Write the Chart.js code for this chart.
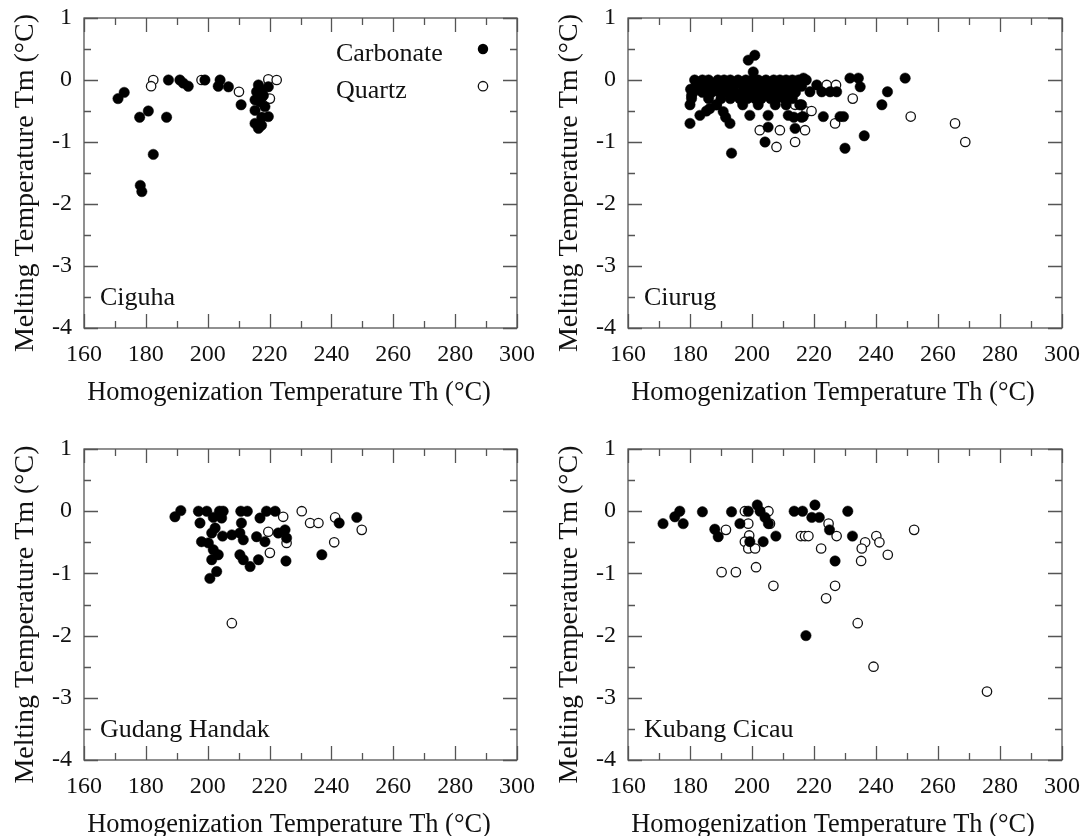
<!DOCTYPE html>
<html>
<head>
<meta charset="utf-8">
<script src="https://cdn.jsdelivr.net/npm/chart.js@4"></script>
<style>
  html, body { margin: 0; padding: 0; background: #fff; overflow: hidden; }
  canvas { position: absolute; }
</style>
</head>
<body>
<canvas id="c1"></canvas>
<canvas id="c2"></canvas>
<canvas id="c3"></canvas>
<canvas id="c4"></canvas>
<script>
// axis ticks
const thTicks = [160, 180, 200, 220, 240, 260, 280, 300];
const tmTicks = [1, 0, -1, -2, -3, -4];
const thTitle = 'Homogenization Temperature Th (°C)';
const tmTitle = 'Melting Temperature Tm (°C)';

// Ciguha
const ciguhaCarbTh = [171, 173, 178, 180.8, 182.4, 178.2, 178.7, 186.7, 187.3, 191, 192.1, 193.7, 199.1, 204, 203.4, 206.7, 210.8,
  216.4, 215.8, 217.4, 219.6, 215.3, 216.9, 218.5, 219.6, 215.3, 216.4, 217.4, 215.3, 218, 217.5];
const ciguhaCarbTm = [-0.3, -0.2, -0.6, -0.5, -1.2, -1.7, -1.8, -0.6, 0, 0, -0.05, -0.1, 0, 0, -0.1, -0.11, -0.4,
  -0.08, -0.19, -0.16, -0.11, -0.32, -0.35, -0.43, -0.59, -0.7, -0.78, -0.73, -0.49, -0.25, -0.6];
const ciguhaQtzTh = [182.4, 181.7, 198, 210.1, 219.6, 222.3, 220.1];
const ciguhaQtzTm = [0, -0.1, 0, -0.19, 0.01, 0, -0.3];

// Ciurug
const ciurugCarbTh = [
  181.5, 184, 186, 189, 191, 193, 195.5, 198, 200, 202, 204.5, 207, 209, 211, 213, 215, 217.5,
  182, 185, 188, 190, 192, 194, 197, 199, 201, 203, 206, 208, 210, 212, 214, 216,
  181, 184, 187, 189.5, 192, 194.5, 197, 199.5, 202, 204.5, 207, 209.5, 212, 214,
  180.5, 186, 190, 193, 196, 198.5, 201, 203, 206, 208, 210.5, 213,
  180, 188.5, 197, 202, 207.5, 211, 180.2, 180.5,
  180, 183.2, 185.3, 186.4, 188.6, 190.7, 191.5, 192.9, 199.3, 205.2, 205.2, 204.2, 193.4, 211.7, 213.5, 213.9,
  215.4, 216, 198.8, 200.9, 200.4,
  216.6, 220.9, 218.7, 222.5, 225.2, 227.3, 231.6, 234.3, 234.9, 249.4, 243.7, 241.9, 223, 228.4, 229.5,
  236.2, 230, 216, 216.5];
const ciurugCarbTm = [
  0, 0, 0, 0, 0, 0, 0, 0, 0, 0, 0, 0, 0, 0, 0, 0, 0,
  -0.1, -0.1, -0.1, -0.1, -0.1, -0.1, -0.1, -0.1, -0.1, -0.1, -0.1, -0.1, -0.1, -0.1, -0.1, -0.1,
  -0.2, -0.2, -0.2, -0.2, -0.2, -0.2, -0.2, -0.2, -0.2, -0.2, -0.2, -0.2, -0.2, -0.2,
  -0.3, -0.3, -0.3, -0.3, -0.3, -0.3, -0.3, -0.3, -0.3, -0.3, -0.3, -0.3,
  -0.4, -0.4, -0.4, -0.4, -0.4, -0.4, -0.15, -0.25,
  -0.7, -0.57, -0.5, -0.46, -0.4, -0.51, -0.6, -0.7, -0.57, -0.57, -0.76, -1.0, -1.18, -0.57, -0.6, -0.78,
  -0.4, -0.6, 0.32, 0.4, 0.13,
  0.03, -0.08, -0.19, -0.19, -0.19, -0.19, 0.03, 0.03, -0.11, 0.03, -0.19, -0.4, -0.59, -0.59, -0.59,
  -0.9, -1.1, -0.4, -0.59];
const ciurugQtzTh = [213.9, 202.5, 209, 207.9, 213.9, 217.6, 224.1, 227.1, 232.5, 219.2, 226.8, 217.1, 251.2, 265.5, 268.8, 204.7];
const ciurugQtzTm = [-0.4, -0.81, -0.81, -1.08, -1.0, -0.51, -0.08, -0.08, -0.3, -0.5, -0.7, -0.81, -0.59, -0.7, -1.0, -0.22];

// Gudang Handak
const gudangCarbTh = [189.4, 191.3, 197, 199.7, 203.8, 205, 197.5, 201.8, 204.5, 202.4, 201.3, 204.8, 207.8, 210.4, 210.9, 210.7,
  212.8, 211.5, 198, 200.2, 201.8, 203.4, 201.3, 202.9, 200.7, 210.4, 211.5, 213.7, 216.4, 215.8, 218.5, 216.9, 219, 221.8,
  222.8, 225, 225.5, 225.3, 242.5, 248.2, 236.9];
const gudangCarbTm = [-0.09, 0.01, 0, 0, 0, 0, -0.19, -0.1, -0.11, -0.27, -0.35, -0.4, -0.38, -0.35, -0.19, 0,
  0, -0.46, -0.49, -0.51, -0.62, -0.7, -0.78, -0.97, -1.08, -0.7, -0.78, -0.89, -0.78, -0.41, -0.49, -0.11, 0, 0,
  -0.35, -0.3, -0.43, -0.8, -0.19, -0.1, -0.7];
const gudangQtzTh = [224.4, 219.6, 225.5, 220.1, 230.4, 233.1, 235.8, 241.2, 249.8, 240.9, 207.8];
const gudangQtzTm = [-0.09, -0.33, -0.51, -0.67, 0, -0.19, -0.19, -0.1, -0.3, -0.5, -1.8];

// Kubang Cicau
const kubangCarbTh = [171.3, 175.1, 176.7, 177.8, 184, 188, 189.1, 193.4, 196.1, 198.8, 201.7, 202.6, 204.2, 205.3, 199.3,
  203.6, 207.7, 213.6, 216.3, 220.3, 219.3, 221.7, 225, 226.8, 230.9, 232.4, 217.4];
const kubangCarbTm = [-0.2, -0.09, 0, -0.2, -0.01, -0.29, -0.41, -0.01, -0.2, 0, 0.1, 0, -0.1, -0.2, -0.49,
  -0.49, -0.4, 0, 0, 0.1, -0.1, -0.1, -0.3, -0.8, 0, -0.4, -2.0];
const kubangQtzTh = [197.7, 205.3, 191.6, 198.8, 205.8, 199.1, 197.7, 198.8, 201, 190.2, 194.8, 201.3, 206.9,
  215.8, 217.1, 218.2, 224.7, 227.3, 222.3, 226.8, 223.9, 234.1, 239.2, 236.5, 235.4, 235.2, 240.1, 241.1, 243.8, 252.3, 275.8];
const kubangQtzTm = [0, 0, -0.3, -0.2, -0.2, -0.39, -0.49, -0.6, -0.6, -0.98, -0.98, -0.9, -1.2,
  -0.4, -0.4, -0.4, -0.2, -0.4, -0.6, -1.2, -1.4, -1.8, -2.5, -0.5, -0.6, -0.8, -0.4, -0.5, -0.7, -0.3, -2.9];

const legendNames = ['Carbonate', 'Quartz'];
const legendTh = 289;
const legendTm = [0.5, -0.1];

const serif = "'Liberation Serif', 'Times New Roman', serif";
const yMargin = 84, topPad = 18, rightPad = 20, xAxisH = 81;

function zip(xs, ys) {
  return xs.map((v, i) => ({ x: v, y: ys[i] }));
}

// don't let tick labels push the plot area around
function noScalePadding(s) {
  s.paddingTop = 0; s.paddingBottom = 0; s.paddingLeft = 0; s.paddingRight = 0;
}

// inward tick marks on all four sides plus the frame
const frameTicks = {
  id: 'frameTicks',
  afterDatasetsDraw(chart) {
    const { ctx, chartArea: a, scales: { x, y } } = chart;
    ctx.save();
    ctx.strokeStyle = '#555';
    ctx.lineWidth = 1.3;
    ctx.beginPath();
    for (let v = x.min; v <= x.max; v += 10) {
      const px = Math.round(x.getPixelForValue(v)) + 0.5;
      const len = v % 20 === 0 ? 14 : 7;
      ctx.moveTo(px, a.top); ctx.lineTo(px, a.top + len);
      ctx.moveTo(px, a.bottom); ctx.lineTo(px, a.bottom - len);
    }
    for (let v = y.min; v <= y.max; v += 0.5) {
      const py = Math.round(y.getPixelForValue(v)) + 0.5;
      const len = Number.isInteger(v) ? 14 : 7;
      ctx.moveTo(a.left, py); ctx.lineTo(a.left + len, py);
      ctx.moveTo(a.right, py); ctx.lineTo(a.right - len, py);
    }
    ctx.stroke();
    ctx.strokeRect(a.left, a.top, a.right - a.left, a.bottom - a.top);
    ctx.restore();
  }
};

// axis titles, site name in the lower left, and the key in the first panel
const panelText = {
  id: 'panelText',
  afterDraw(chart, args, opts) {
    const { ctx, chartArea: a, scales: { x, y } } = chart;
    ctx.save();
    ctx.fillStyle = '#111';

    ctx.font = '26.4px ' + serif;
    ctx.textAlign = 'center';
    ctx.textBaseline = 'middle';
    ctx.fillText(thTitle, a.left + 205, a.bottom + 65);
    ctx.save();
    ctx.font = '28px ' + serif;
    ctx.translate(26, (a.top + a.bottom) / 2 + 10);
    ctx.rotate(-Math.PI / 2);
    ctx.fillText(tmTitle, 0, 0);
    ctx.restore();

    ctx.font = '26px ' + serif;
    ctx.textBaseline = 'alphabetic';
    ctx.textAlign = 'left';
    ctx.fillText(opts.name, a.left + 16, a.bottom - 23);
    if (opts.key) {
      legendNames.forEach((n, i) => {
        const px = x.getPixelForValue(legendTh);
        const py = y.getPixelForValue(legendTm[i]);
        ctx.fillStyle = '#111';
        ctx.fillText(n, px - 147, py + 12);
        ctx.beginPath();
        ctx.arc(px, py, i === 0 ? 5.2 : 4.7, 0, Math.PI * 2);
        if (i === 0) { ctx.fillStyle = '#000'; ctx.fill(); }
        else { ctx.lineWidth = 1.3; ctx.strokeStyle = '#111'; ctx.stroke(); }
      });
    }
    ctx.restore();
  }
};

function makePanel(id, name, area, carbTh, carbTm, qtzTh, qtzTm, key) {
  const [l, t, r, b] = area;
  const cv = document.getElementById(id);
  const w = r - l + yMargin + rightPad;
  const h = b - t + topPad + xAxisH;
  cv.width = w; cv.height = h;
  cv.style.width = w + 'px'; cv.style.height = h + 'px';
  cv.style.left = (l - yMargin) + 'px';
  cv.style.top = (t - topPad) + 'px';

  new Chart(cv, {
    type: 'scatter',
    data: {
      datasets: [{
        label: 'Carbonate',
        data: zip(carbTh, carbTm),
        pointRadius: 5.2,
        pointBackgroundColor: '#000',
        pointBorderColor: '#000',
        pointBorderWidth: 0.5
      }, {
        label: 'Quartz',
        data: zip(qtzTh, qtzTm),
        pointRadius: 4.7,
        pointBackgroundColor: '#fff',
        pointBorderColor: '#111',
        pointBorderWidth: 1.3
      }]
    },
    options: {
      responsive: false,
      animation: false,
      events: [],
      layout: { padding: { left: 0, top: topPad, right: rightPad, bottom: 0 } },
      plugins: {
        legend: { display: false },
        tooltip: { enabled: false },
        panelText: { name: name, key: key }
      },
      scales: {
        x: {
          type: 'linear',
          min: 160,
          max: 300,
          afterBuildTicks: s => { s.ticks = thTicks.map(v => ({ value: v })); },
          afterFit: s => { s.height = xAxisH; noScalePadding(s); },
          grid: { display: false, drawTicks: false },
          border: { display: false },
          ticks: { font: { family: serif, size: 24 }, color: '#111', padding: 12, maxRotation: 0, autoSkip: false },
          title: { display: false }
        },
        y: {
          type: 'linear',
          min: -4,
          max: 1,
          afterBuildTicks: s => { s.ticks = tmTicks.map(v => ({ value: v })); },
          afterFit: s => { s.width = yMargin; noScalePadding(s); },
          grid: { display: false, drawTicks: false },
          border: { display: false },
          ticks: { font: { family: serif, size: 24 }, color: '#111', padding: 12, callback: v => String(v) },
          title: { display: false }
        }
      }
    },
    plugins: [frameTicks, panelText]
  });
}

makePanel('c1', 'Ciguha', [84, 18, 517, 328], ciguhaCarbTh, ciguhaCarbTm, ciguhaQtzTh, ciguhaQtzTm, true);
makePanel('c2', 'Ciurug', [628, 18, 1062, 328], ciurugCarbTh, ciurugCarbTm, ciurugQtzTh, ciurugQtzTm, false);
makePanel('c3', 'Gudang Handak', [84, 449, 517, 760], gudangCarbTh, gudangCarbTm, gudangQtzTh, gudangQtzTm, false);
makePanel('c4', 'Kubang Cicau', [628, 449, 1062, 760], kubangCarbTh, kubangCarbTm, kubangQtzTh, kubangQtzTm, false);
</script>
</body>
</html>
